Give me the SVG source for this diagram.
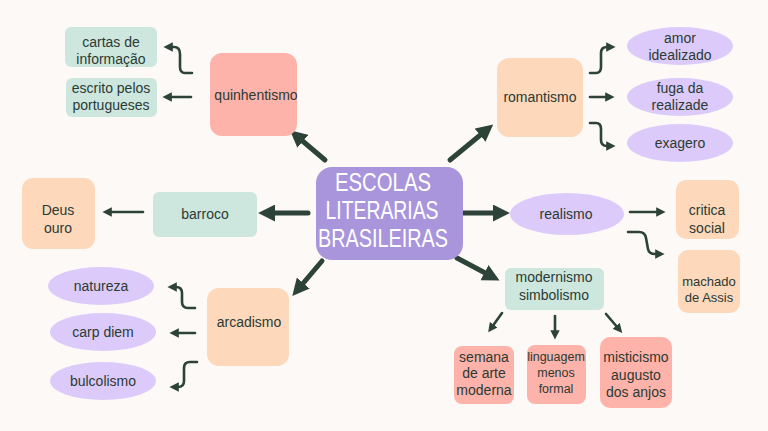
<svg xmlns="http://www.w3.org/2000/svg" width="768" height="431" viewBox="0 0 768 431">
<defs>
<style>
.bg{fill:#fdf9f6}
.pink{fill:#fdb3aa}
.peach{fill:#fdd8bb}
.mint{fill:#cde7df}
.lav{fill:#dccbfa}
.core{fill:#a995dc}
text{font-family:"Liberation Sans",Arial,sans-serif;font-size:14px;fill:#2b3a33;text-anchor:middle}
.title{font-size:26px;fill:#ffffff}
.big{stroke:#2d4238;stroke-width:5;fill:none;stroke-linecap:round}
.thin{stroke:#2d4238;stroke-width:2.6;fill:none;stroke-linecap:round;stroke-linejoin:round}
</style>
<marker id="hb" viewBox="0 0 10 10" refX="3" refY="5" markerWidth="3.4" markerHeight="3.4" orient="auto">
<path d="M0,0 L10,5 L0,10 z" fill="#2d4238"/>
</marker>
<marker id="ht" viewBox="0 0 10 10" refX="3" refY="5" markerWidth="3.6" markerHeight="3.6" orient="auto">
<path d="M0,0 L10,5 L0,10 z" fill="#2d4238"/>
</marker>
</defs>
<rect class="bg" x="0" y="0" width="768" height="431"/>

<g id="connectors">
<path class="big" d="M325,160 L299,138" marker-end="url(#hb)"/>
<path class="big" d="M450,160 L484,132" marker-end="url(#hb)"/>
<path class="big" d="M308,213 L270,213" marker-end="url(#hb)"/>
<path class="big" d="M462,213 L498,213" marker-end="url(#hb)"/>
<path class="big" d="M322,261 L300,287" marker-end="url(#hb)"/>
<path class="big" d="M457,258 L489,275" marker-end="url(#hb)"/>

<path class="thin" d="M192,73 L185,73 Q180,73 180,67 L180,54 Q180,47 174,47 L170,47" marker-end="url(#ht)"/>
<path class="thin" d="M191,97 L169,97" marker-end="url(#ht)"/>
<path class="thin" d="M590,73 L596,73 Q601,73 601,67 L601,53 Q601,47 607,47 L609,47" marker-end="url(#ht)"/>
<path class="thin" d="M590,97 L608,97" marker-end="url(#ht)"/>
<path class="thin" d="M590,123 L596,123 Q601,123 601,129 L601,140 Q601,146 607,146 L609,146" marker-end="url(#ht)"/>
<path class="thin" d="M143,212 L109,212" marker-end="url(#ht)"/>
<path class="thin" d="M195,308 L188,308 Q182,308 182,302 L182,293 Q182,287 176,287 L174,287" marker-end="url(#ht)"/>
<path class="thin" d="M195,333 L176,333" marker-end="url(#ht)"/>
<path class="thin" d="M197,362 L190,362 Q184,362 184,368 L184,381 Q184,387 178,387 L176,387" marker-end="url(#ht)"/>
<path class="thin" d="M630,212 L659,212" marker-end="url(#ht)"/>
<path class="thin" d="M628,232 L639,232 Q645,232 646,238 L648,249 Q649,254 655,254 L658,254" marker-end="url(#ht)"/>
<path class="thin" d="M502,313 L492,327" marker-end="url(#ht)"/>
<path class="thin" d="M555,316 L555,333" marker-end="url(#ht)"/>
<path class="thin" d="M606,314 L618,328" marker-end="url(#ht)"/>
</g>

<g id="central">
<rect class="core" x="316" y="167" width="147" height="93" rx="16"/>
<text class="title" x="383" y="191" textLength="96" lengthAdjust="spacingAndGlyphs">ESCOLAS</text>
<text class="title" x="382" y="219" textLength="113" lengthAdjust="spacingAndGlyphs">LITERARIAS</text>
<text class="title" x="383" y="247" textLength="130" lengthAdjust="spacingAndGlyphs">BRASILEIRAS</text>
</g>

<g id="quinhentismo">
<rect class="pink" x="210" y="53" width="87" height="83" rx="12"/>
<text x="256" y="100">quinhentismo</text>
</g>
<g id="cartas">
<rect class="mint" x="65" y="27" width="92" height="40" rx="6"/>
<text x="111" y="47">cartas de</text>
<text x="111" y="64">informação</text>
</g>
<g id="escrito">
<rect class="mint" x="66" y="78" width="91" height="39" rx="6"/>
<text x="111" y="93">escrito pelos</text>
<text x="111" y="110">portugueses</text>
</g>

<g id="romantismo">
<rect class="peach" x="497" y="58" width="86" height="79" rx="12"/>
<text x="540" y="102">romantismo</text>
</g>
<g id="amor">
<ellipse class="lav" cx="680" cy="46" rx="53" ry="19"/>
<text x="680" y="43">amor</text>
<text x="680" y="60">idealizado</text>
</g>
<g id="fuga">
<ellipse class="lav" cx="680" cy="97" rx="53" ry="19"/>
<text x="680" y="93">fuga da</text>
<text x="680" y="110">realizade</text>
</g>
<g id="exagero">
<ellipse class="lav" cx="680" cy="143" rx="53" ry="19"/>
<text x="680" y="148">exagero</text>
</g>

<g id="barroco">
<rect class="mint" x="153" y="192" width="104" height="45" rx="6"/>
<text x="205" y="219">barroco</text>
</g>
<g id="deus">
<rect class="peach" x="22" y="178" width="73" height="71" rx="11"/>
<text x="58" y="215">Deus</text>
<text x="58" y="233">ouro</text>
</g>

<g id="arcadismo">
<rect class="peach" x="207" y="288" width="82" height="78" rx="12"/>
<text x="249" y="327">arcadismo</text>
</g>
<g id="natureza">
<ellipse class="lav" cx="101" cy="286" rx="53" ry="19"/>
<text x="101" y="291">natureza</text>
</g>
<g id="carpdiem">
<ellipse class="lav" cx="103" cy="332" rx="53" ry="19"/>
<text x="103" y="337">carp diem</text>
</g>
<g id="bulcolismo">
<ellipse class="lav" cx="103" cy="381" rx="53" ry="19"/>
<text x="103" y="386">bulcolismo</text>
</g>

<g id="realismo">
<ellipse class="lav" cx="567" cy="214" rx="57" ry="21"/>
<text x="566" y="219">realismo</text>
</g>
<g id="critica">
<rect class="peach" x="676" y="180" width="63" height="59" rx="10"/>
<text x="707" y="215">critica</text>
<text x="707" y="233">social</text>
</g>
<g id="machado">
<rect class="peach" x="678" y="250" width="62" height="63" rx="10"/>
<text x="709" y="286" style="font-size:13px">machado</text>
<text x="709" y="302" style="font-size:13px">de Assis</text>
</g>

<g id="modernismo">
<rect class="mint" x="505" y="268" width="99" height="42" rx="6"/>
<text x="554" y="282">modernismo</text>
<text x="554" y="300">simbolismo</text>
</g>
<g id="semana">
<rect class="pink" x="454" y="346" width="60" height="58" rx="8"/>
<text x="484" y="362">semana</text>
<text x="484" y="378">de arte</text>
<text x="484" y="395">moderna</text>
</g>
<g id="linguagem">
<rect class="pink" x="527" y="345" width="59" height="59" rx="8"/>
<text x="556" y="361" style="font-size:12.5px">linguagem</text>
<text x="556" y="377" style="font-size:12.5px">menos</text>
<text x="556" y="393" style="font-size:12.5px">formal</text>
</g>
<g id="misticismo">
<rect class="pink" x="600" y="337" width="72" height="71" rx="10"/>
<text x="636" y="362">misticismo</text>
<text x="636" y="380">augusto</text>
<text x="636" y="397">dos anjos</text>
</g>
</svg>
